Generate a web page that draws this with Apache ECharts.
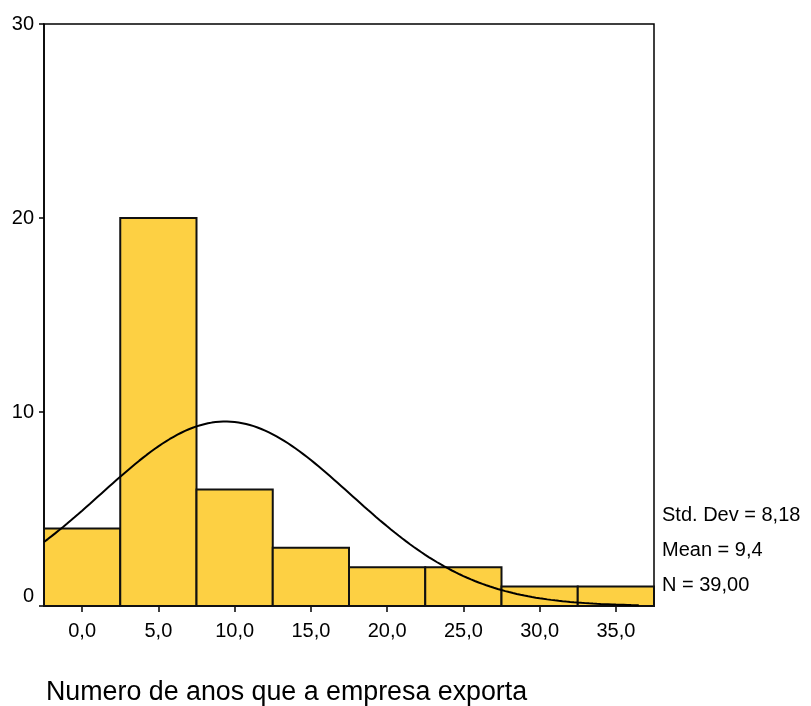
<!DOCTYPE html>
<html>
<head>
<meta charset="utf-8">
<script src="https://cdn.jsdelivr.net/npm/echarts@6/dist/echarts.min.js"></script>
<style>
  html, body { margin: 0; padding: 0; background: #fff; }
  #chart { width: 811px; height: 706px; }
</style>
</head>
<body>
<div id="chart"></div>
<script>
// Histogram of years exporting, with the fitted normal curve
const binCenters = [0, 5, 10, 15, 20, 25, 30, 35];
const binCounts = [4, 20, 6, 3, 2, 2, 1, 1];
const binWidth = 5;
const xTickValues = [0, 5, 10, 15, 20, 25, 30, 35];
const statMean = 9.4;
const statStdDev = 8.18;
const statN = 39;
const xLabel = 'Numero de anos que a empresa exporta';

const fmt = (v, d) => v.toFixed(d).replace('.', ',');

// normal curve scaled to counts per bin (N * width * pdf)
const curve = [];
for (let x = -2.5; x <= 36.5001; x += 0.25) {
  const z = (x - statMean) / statStdDev;
  const y = statN * binWidth * Math.exp(-0.5 * z * z) / (statStdDev * Math.sqrt(2 * Math.PI));
  curve.push([x, y]);
}

const bars = binCenters.map((c, i) => [c, binCounts[i]]);

const chart = echarts.init(document.getElementById('chart'), null, { renderer: 'canvas' });
const font = '"Liberation Sans", Arial, sans-serif';

chart.setOption({
  animation: false,
  backgroundColor: '#fff',
  grid: {
    left: 44, top: 24, right: 157, bottom: 100,
    show: true, borderColor: '#000', borderWidth: 1.5, backgroundColor: 'transparent'
  },
  xAxis: {
    type: 'value',
    min: binCenters[0] - binWidth / 2,
    max: binCenters[binCenters.length - 1] + binWidth / 2,
    splitLine: { show: false },
    axisLine: { show: true, onZero: false, lineStyle: { color: '#000', width: 1.5 } },
    axisTick: { show: true, customValues: xTickValues, length: 6, lineStyle: { color: '#000', width: 1.5 } },
    axisLabel: {
      customValues: xTickValues,
      formatter: v => fmt(v, 1),
      color: '#000', fontFamily: font, fontSize: 20, margin: 15
    }
  },
  yAxis: {
    type: 'value',
    min: 0, max: 30, interval: 10,
    splitLine: { show: false },
    axisLine: { show: true, onZero: false, lineStyle: { color: '#000', width: 1.5 } },
    axisTick: { show: true, length: 5, lineStyle: { color: '#000', width: 1.5 } },
    axisLabel: {
      color: '#000', fontFamily: font, fontSize: 20, margin: 10,
      formatter: v => v === 0 ? '{z|0}' : String(v),
      rich: { z: { fontFamily: font, fontSize: 20, color: '#000', padding: [0, 0, 20, 0] } }
    }
  },
  series: [
    {
      type: 'custom',
      data: bars,
      renderItem: (params, api) => {
        const c = api.value(0), v = api.value(1);
        const p0 = api.coord([c - binWidth / 2, 0]);
        const p1 = api.coord([c + binWidth / 2, v]);
        return {
          type: 'rect',
          shape: { x: p0[0], y: p1[1], width: p1[0] - p0[0], height: p0[1] - p1[1] },
          style: { fill: '#FDD043', stroke: '#111', lineWidth: 2 }
        };
      },
      z: 2
    },
    {
      type: 'line',
      data: curve,
      showSymbol: false,
      smooth: false,
      lineStyle: { color: '#000', width: 2 },
      z: 3
    }
  ],
  graphic: [
    {
      type: 'text', left: 662, top: 505,
      style: { text: 'Std. Dev = ' + fmt(statStdDev, 2), fontFamily: font, fontSize: 20, fill: '#000' }
    },
    {
      type: 'text', left: 662, top: 540,
      style: { text: 'Mean = ' + fmt(statMean, 1), fontFamily: font, fontSize: 20, fill: '#000' }
    },
    {
      type: 'text', left: 662, top: 575,
      style: { text: 'N = ' + fmt(statN, 2), fontFamily: font, fontSize: 20, fill: '#000' }
    },
    {
      type: 'text', left: 46, top: 679,
      style: { text: xLabel, fontFamily: font, fontSize: 26.8, fill: '#000' }
    }
  ]
});
</script>
</body>
</html>
